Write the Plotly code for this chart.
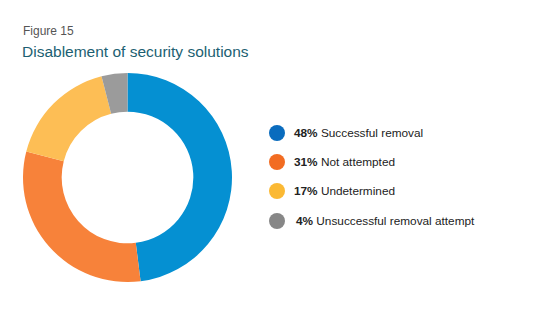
import plotly.graph_objects as go

labels = ["Successful removal", "Not attempted", "Undetermined", "Unsuccessful removal attempt"]
values = [48, 31, 17, 4]
slice_colors = ["#0590D2", "#F7823A", "#FDBE55", "#9B9B9B"]
legend_colors = ["#0A6CBE", "#F26C22", "#FBB934", "#878787"]

W, H = 540, 326
FONT = "Liberation Sans, Arial, sans-serif"
fig = go.Figure()
fig.add_trace(go.Pie(
    values=values, labels=labels, hole=0.63, sort=False, direction="clockwise",
    rotation=0, marker=dict(colors=slice_colors, line=dict(width=0)),
    textinfo="none", hoverinfo="label+percent", showlegend=False,
    domain=dict(x=[23 / W, 232 / W], y=[1 - 282 / H, 1 - 73 / H]),
))

legend_y = [133, 162, 191, 221]
for i, (lab, v) in enumerate(zip(labels, values)):
    y = 1 - legend_y[i] / H
    r = 8
    fig.add_shape(type="circle", xref="paper", yref="paper",
                  x0=(277 - r) / W, x1=(277 + r) / W,
                  y0=y - r / H, y1=y + r / H,
                  fillcolor=legend_colors[i], line=dict(width=0))
    fig.add_annotation(x=(292 if v >= 10 else 294) / W, y=y, xref="paper", yref="paper",
                       xanchor="left", yanchor="middle", showarrow=False,
                       text=f"<b>{v}%</b> {lab}",
                       font=dict(family=FONT, size=11.8, color="#222222"))

fig.add_annotation(x=21 / W, y=1 - 31 / H, xref="paper", yref="paper", xanchor="left",
                   yanchor="middle", showarrow=False, text="Figure 15",
                   font=dict(family=FONT, size=12, color="#555555"))
fig.add_annotation(x=20 / W, y=1 - 52 / H, xref="paper", yref="paper", xanchor="left",
                   yanchor="middle", showarrow=False, text="Disablement of security solutions",
                   font=dict(family=FONT, size=15.5, color="#1C5F72"))

fig.update_layout(width=W, height=H, margin=dict(l=0, r=0, t=0, b=0),
                  paper_bgcolor="white", plot_bgcolor="white")
fig.write_html("out.html")
